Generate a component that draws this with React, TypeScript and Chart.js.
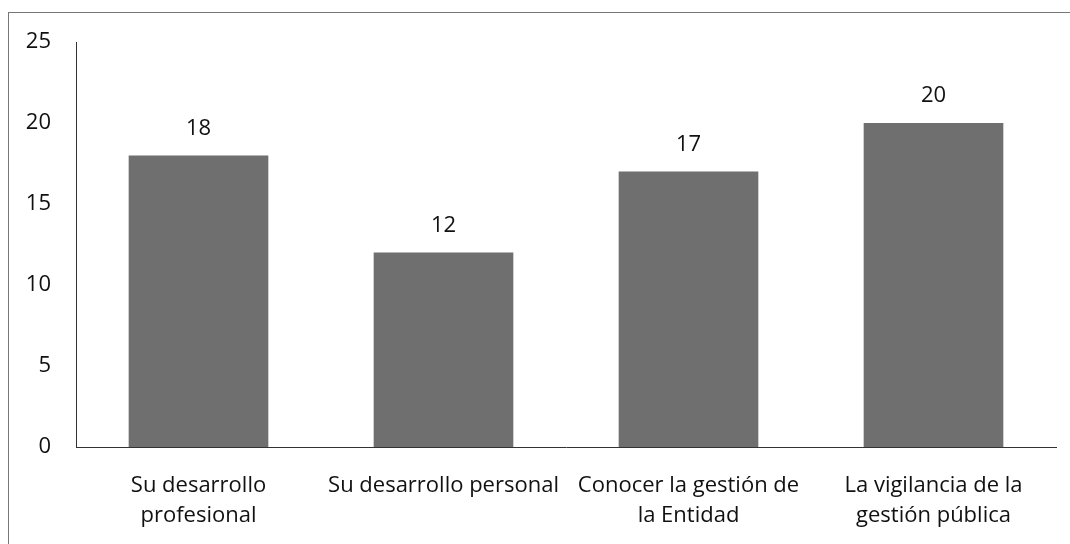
import React, { useEffect, useRef } from "react";
import { Chart, registerables } from "chart.js";

Chart.register(...registerables);

const categories: (string | string[])[] = [
  ["Su desarrollo", "profesional"],
  "Su desarrollo personal",
  ["Conocer la gestión de", "la Entidad"],
  ["La vigilancia de la", "gestión pública"],
];
const values = [18, 12, 17, 20];
const yMin = 0;
const yMax = 25;
const yStep = 5;

const FONT = '"Open Sans", "Liberation Sans", sans-serif';
const FONT_SIZE = 22;

const valueLabels = {
  id: "valueLabels",
  afterDatasetsDraw(chart: any) {
    const ctx = chart.ctx;
    const meta = chart.getDatasetMeta(0);
    ctx.save();
    ctx.font = `${FONT_SIZE}px ${FONT}`;
    ctx.fillStyle = "#111";
    ctx.textAlign = "center";
    ctx.textBaseline = "middle";
    meta.data.forEach((bar: any, i: number) => {
      ctx.fillText(String(values[i]), bar.x, bar.y - 27);
    });
    ctx.restore();
  },
};

export default function App() {
  const ref = useRef<HTMLCanvasElement>(null);
  useEffect(() => {
    if (!ref.current) return;
    const chart = new Chart(ref.current, {
      type: "bar",
      data: {
        labels: categories,
        datasets: [
          {
            data: values,
            backgroundColor: "#6f6f6f",
            borderWidth: 0,
            barPercentage: 0.57,
            categoryPercentage: 1,
          },
        ],
      },
      options: {
        responsive: false,
        animation: false,
        devicePixelRatio: 1,
        layout: { padding: { top: 42, right: 14, left: 0, bottom: 0 } },
        plugins: { legend: { display: false }, tooltip: { enabled: false } },
        scales: {
          x: {
            grid: { display: false, drawTicks: false },
            border: { display: true, color: "#333", width: 1 },
            ticks: {
              autoSkip: false,
              maxRotation: 0,
              minRotation: 0,
              padding: 24,
              color: "#111",
              font: { family: FONT, size: FONT_SIZE, lineHeight: 1.36 },
            },
            afterFit: (s: any) => {
              s.height = 97;
            },
          },
          y: {
            min: yMin,
            max: yMax,
            grid: { display: false, drawTicks: false },
            border: { display: true, color: "#333", width: 1 },
            ticks: {
              stepSize: yStep,
              padding: 25,
              color: "#111",
              font: { family: FONT, size: FONT_SIZE },
            },
            afterFit: (s: any) => {
              s.width = 76;
            },
          },
        },
      },
      plugins: [valueLabels],
    });
    return () => chart.destroy();
  }, []);

  return (
    <div style={{ position: "absolute", left: 0, top: 0, width: 1070, height: 544, overflow: "hidden", background: "#fff" }}>
      <div
        style={{
          position: "absolute",
          left: 8,
          top: 12,
          width: 1062,
          height: 532,
          borderLeft: "1px solid #777",
          borderTop: "1px solid #777",
          boxSizing: "border-box",
        }}
      />
      <canvas ref={ref} width={1070} height={544} style={{ position: "absolute", left: 0, top: 0, display: "block" }} />
    </div>
  );
}
